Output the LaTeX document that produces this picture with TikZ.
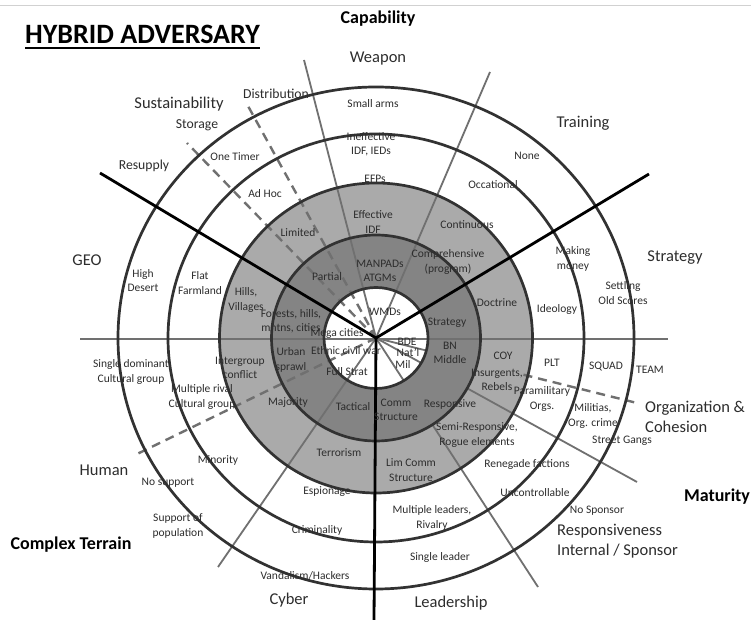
\documentclass[tikz,border=0pt]{standalone}
\usepackage{fontspec}
\setmainfont{Carlito}
\usepackage{tikz}
\usetikzlibrary{calc}
\definecolor{ringdark}{RGB}{132,132,132}
\definecolor{ringlight}{RGB}{170,170,170}
\definecolor{spoke}{RGB}{112,112,112}
\definecolor{rim}{RGB}{50,50,50}
\definecolor{ink}{RGB}{45,45,45}

\begin{document}
\begin{tikzpicture}[x=1pt,y=1pt,
    lbl/.style={text=ink,font=\fontsize{11.5}{14.5}\selectfont,align=center,inner sep=0pt},
    mid/.style={text=ink,font=\fontsize{13.7}{16}\selectfont,inner sep=0pt},
    big/.style={text=ink,font=\fontsize{16.5}{20}\selectfont,inner sep=0pt},
    head/.style={text=black,font=\fontsize{18}{21}\selectfont\bfseries,inner sep=0pt},
    rimline/.style={draw=rim,line width=2.7pt},
    greyspoke/.style={draw=spoke,line width=1.8pt},
    heavyspoke/.style={draw=black,line width=2.8pt},
    dashspoke/.style={draw=spoke,line width=2.4pt,dash pattern=on 9pt off 6pt}]
        \useasboundingbox (0,0) rectangle (751,620);
        \fill[white] (0,0) rectangle (751,620);
        \draw[black!18,line width=1pt] (0,614)--(751,614);

        \coordinate (c) at (376,282);
        \coordinate (sw) at (100,447);
        \coordinate (se) at (649,446);
        \coordinate (sb) at (374,0);
        \coordinate (hl) at (80,281);
        \coordinate (hr) at (668,281);
        \coordinate (wl) at (304,560);
        \coordinate (wr) at (490,548);
        \coordinate (rs) at (637,138);
        \coordinate (ls) at (538,33);
        \coordinate (cy) at (218,53);
        \coordinate (dd) at (248,514);
        \coordinate (ds) at (187,477);
        \coordinate (dh) at (135,165);
        \coordinate (dc) at (637,217);

        \fill[ringlight] (c) ellipse [x radius=156.5, y radius=155];
        \fill[ringdark] (c) ellipse [x radius=104.5, y radius=103];
        \fill[white] (c) ellipse [x radius=52, y radius=50.5];

        \draw[greyspoke] (hl)--(hr);
        \draw[greyspoke] (c)--(wl);
        \draw[greyspoke] (c)--(wr);
        \draw[greyspoke] (c)--(cy);
        \draw[greyspoke] (c)--($(c)!51pt!(rs)$) ($(c)!104pt!(rs)$)--(rs);
        \draw[greyspoke] (c)--($(c)!51pt!(ls)$) ($(c)!104pt!(ls)$)--(ls);
        \draw[greyspoke] (c)--($(c)!51pt!(dc)$);
        \draw[dashspoke] ($(c)!152pt!(dc)$)--(dc);
        \draw[dashspoke] (c)--(dd);
        \draw[dashspoke] (c)--(ds);
        \draw[dashspoke] (c)--(dh);

        \draw[rimline] (c) ellipse [x radius=52, y radius=50.5];
        \draw[rimline] (c) ellipse [x radius=104.5, y radius=103];
        \draw[rimline] (c) ellipse [x radius=156.5, y radius=155];
        \draw[rimline] (c) ellipse [x radius=208, y radius=204];
        \draw[rimline] (c) ellipse [x radius=258, y radius=251];

        \draw[heavyspoke] (c)--(sw);
        \draw[heavyspoke] (c)--(se);
        \draw[heavyspoke] (c)--(sb);

        \node[anchor=base west,inner sep=0pt,font=\fontsize{28}{31}\selectfont\bfseries] (title) at (25,576) {HYBRID ADVERSARY};
        \draw[line width=2pt] ($(title.base west)+(0,-4)$)--($(title.base east)+(0,-4)$);

        \node[head] (capab) at (378,601) {Capability};
        \node[big] (weapon) at (378,561) {Weapon};
        \node[big] (sustain) at (179,516) {Sustainability};
        \node[mid] (distrib) at (276,526) {Distribution};
        \node[mid] (storage) at (197,495) {Storage};
        \node[mid] (resupply) at (144,454) {Resupply};
        \node[big] (training) at (583,497) {Training};
        \node[big] (strategy) at (675,362) {Strategy};
        \node[big] (geo) at (87,360) {GEO};
        \node[big] (human) at (104,150) {Human};
        \node[head] (terrain) at (71,75) {Complex Terrain};
        \node[big] (cyber) at (289,20) {Cyber};
        \node[big] (leader) at (451,17) {Leadership};
        \node[big,anchor=west,align=left] (respint) at (557,79) {Responsiveness\\Internal / Sponsor};
        \node[big,anchor=west,align=left] (orgcoh) at (645,203) {Organization \&\\Cohesion};
        \node[head] (maturity) at (717,123) {Maturity};

        \node[lbl] (smallarms) at (373,516) {Small arms};
        \node[lbl] (ineff) at (371,475.5) {Ineffective\\IDF, IEDs};
        \node[lbl] (efps) at (375,441) {EFPs};
        \node[lbl] (effidf) at (373,398) {Effective\\IDF};
        \node[lbl] (manpads) at (380,349) {MANPADs\\ATGMs};
        \node[lbl] (wmds) at (385,308) {WMDs};
        \node[lbl] (compr) at (448,358) {Comprehensive\\(program)};
        \node[lbl] (contin) at (467,395) {Continuous};
        \node[lbl] (occas) at (493,435) {Occational};
        \node[lbl] (none) at (527,464) {None};
        \node[lbl] (money) at (573,361) {Making\\money};
        \node[lbl] (scores) at (623,327) {Settling\\Old Scores};
        \node[lbl] (ideol) at (557,310) {Ideology};
        \node[lbl] (doctr) at (497,317) {Doctrine};
        \node[lbl] (strat) at (447,297) {Strategy};
        \node[lbl] (bde) at (407,278) {BDE};
        \node[lbl] (natl) at (408,268) {Nat'l};
        \node[lbl] (mil) at (403,255) {Mil};
        \node[lbl] (bn) at (450,267) {BN\\Middle};
        \node[lbl] (coy) at (503,264) {COY};
        \node[lbl] (insurg) at (497,240) {Insurgents,\\Rebels};
        \node[lbl] (plt) at (552,257) {PLT};
        \node[lbl] (squad) at (606,253) {SQUAD};
        \node[lbl] (team) at (650,250) {TEAM};
        \node[lbl] (param) at (542,221) {Paramilitary\\Orgs.};
        \node[lbl] (milit) at (593,204) {Militias,\\Org. crime};
        \node[lbl] (gangs) at (622,179) {Street Gangs};
        \node[lbl] (comm) at (396,210) {Comm\\Structure};
        \node[lbl] (respons) at (450,216) {Responsive};
        \node[lbl] (semi) at (477,185) {Semi-Responsive,\\Rogue elements};
        \node[lbl] (renegade) at (527,156) {Renegade factions};
        \node[lbl] (uncontr) at (535,127) {Uncontrollable};
        \node[lbl] (nospons) at (597,109) {No Sponsor};
        \node[lbl] (limcomm) at (411,150) {Lim Comm\\Structure};
        \node[lbl] (multi) at (432,102) {Multiple leaders,\\Rivalry};
        \node[lbl] (single) at (440,63) {Single leader};
        \node[lbl] (tactical) at (353,213) {Tactical};
        \node[lbl] (terror) at (339,167) {Terrorism};
        \node[lbl] (espion) at (327,128) {Espionage};
        \node[lbl] (crimin) at (317,90) {Criminality};
        \node[lbl] (vandal) at (305,44) {Vandalism/Hackers};
        \node[lbl] (fullstrat) at (347,248) {Full Strat};
        \node[lbl] (ethnic) at (346,269) {Ethnic civil war};
        \node[lbl] (mega) at (337,286) {Mega cities};
        \node[lbl] (urban) at (291,260) {Urban\\sprawl};
        \node[lbl] (major) at (288,217) {Majority};
        \node[lbl] (intergr) at (240,252) {Intergroup\\conflict};
        \node[lbl] (dominant) at (131,248) {Single dominant\\Cultural group};
        \node[lbl] (rival) at (202,223) {Multiple rival\\Cultural group};
        \node[lbl] (minor) at (218,160) {Minority};
        \node[lbl] (nosupp) at (168,137) {No support};
        \node[lbl] (supp) at (178,94) {Support of\\population};
        \node[lbl] (forests) at (291,299) {Forests, hills,\\mntns, cities};
        \node[lbl] (hills) at (246,320) {Hills,\\Villages};
        \node[lbl] (flat) at (200,337) {Flat\\Farmland};
        \node[lbl] (desert) at (143,339.5) {High\\Desert};
        \node[lbl] (partial) at (327,343) {Partial};
        \node[lbl] (limited) at (298,387) {Limited};
        \node[lbl] (adhoc) at (265,426) {Ad Hoc};
        \node[lbl] (onetimer) at (235,463) {One Timer};
\end{tikzpicture}
\end{document}
